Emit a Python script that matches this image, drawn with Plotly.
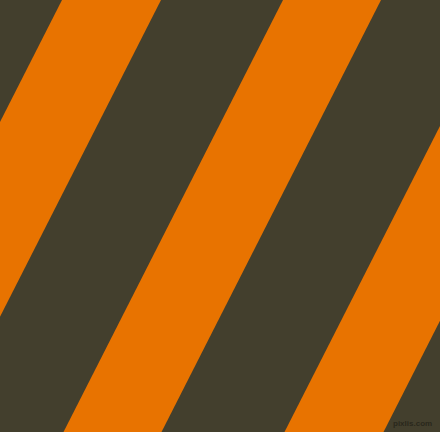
import plotly.graph_objects as go

# stripe edges (x in px at y=0)
stripe_left_top = [62, 283, 504]
stripe_right_top = [161, 381, 603]
# horizontal drift of each edge from top to bottom
stripe_drift = 219.5

W, H = 440, 432
dark = "#433F2D"
orange = "#E87300"

fig = go.Figure()
for xl, xr in zip(stripe_left_top, stripe_right_top):
    fig.add_trace(go.Scatter(
        x=[xl, xr, xr - stripe_drift, xl - stripe_drift, xl],
        y=[0, 0, H, H, 0],
        mode="lines", fill="toself", fillcolor=orange,
        line=dict(width=0, color=orange), hoverinfo="skip", showlegend=False,
    ))

fig.add_annotation(
    x=1, y=0, xref="paper", yref="paper", xanchor="right", yanchor="bottom",
    xshift=-6, yshift=2, text="<b>pixlis.com</b>", showarrow=False,
    font=dict(family="Liberation Sans", size=8, color="#2a281c"),
)

fig.update_layout(
    width=W, height=H, margin=dict(l=0, r=0, t=0, b=0),
    plot_bgcolor=dark, paper_bgcolor=dark,
    xaxis=dict(range=[0, W], visible=False, fixedrange=True),
    yaxis=dict(range=[H, 0], visible=False, fixedrange=True),
)

fig.write_html("out.html", config={"displayModeBar": False},
               post_script="document.body.style.margin='0';")
